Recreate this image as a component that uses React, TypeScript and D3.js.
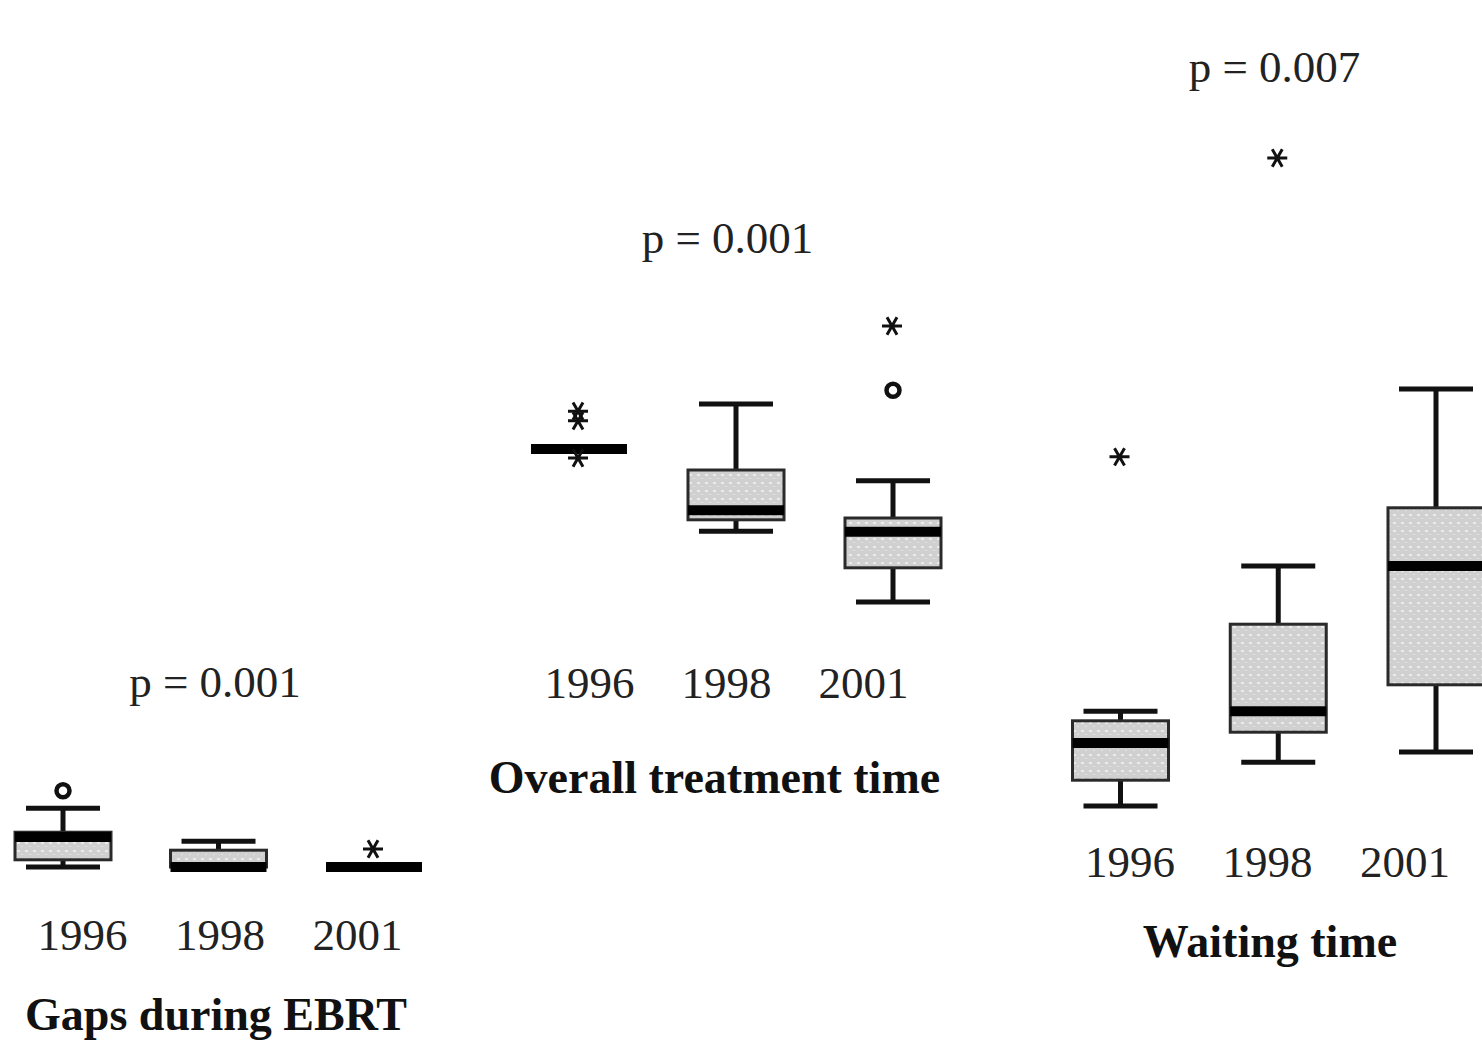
import React from "react";
import * as d3 from "d3";

// Year groups shared by all three panels
const years = ["1996", "1998", "2001"];

// Gaps during EBRT (days)
const gapsMin = [0, 0, 0];
const gapsQ1 = [1.2, 0, 0];
const gapsMedian = [5.0, 0, 0];
const gapsQ3 = [5.8, 2.8, 0];
const gapsMax = [9.8, 4.3, 0];
const gapsOutliers = [
  { year: "1996", value: 12.7, kind: "circle" },
  { year: "2001", value: 3.0, kind: "star" },
];

// Overall treatment time (days)
const otMin = [56, 42.3, 30.5];
const otQ1 = [56, 44.2, 36.2];
const otMedian = [56, 45.8, 42.2];
const otQ3 = [56, 52.5, 44.5];
const otMax = [56, 63.5, 50.7];
const otOutliers = [
  { year: "1996", value: 62.3, kind: "star" },
  { year: "1996", value: 60.7, kind: "star" },
  { year: "1996", value: 54.5, kind: "star" },
  { year: "2001", value: 65.8, kind: "circle" },
  { year: "2001", value: 76.5, kind: "star" },
];

// Waiting time (days)
const wtMin = [4.0, 11.3, 13.0];
const wtQ1 = [8.3, 16.3, 24.2];
const wtMedian = [14.5, 19.8, 44.0];
const wtQ3 = [18.2, 34.3, 53.7];
const wtMax = [19.8, 44.0, 73.5];
const wtOutliers = [
  { year: "1996", value: 62.2, kind: "star" },
  { year: "1998", value: 112, kind: "star" },
];

const pValues = ["p = 0.001", "p = 0.001", "p = 0.007"];
const titles = ["Gaps during EBRT", "Overall treatment time", "Waiting time"];

type Outlier = { year: string; value: number; kind: string };

type PanelSpec = {
  min: number[];
  q1: number[];
  median: number[];
  q3: number[];
  max: number[];
  outliers: Outlier[];
  pText: string;
  title: string;
  zeroY: number;
  boxX: [number, number];
  labelX: [number, number];
  yearY: number;
  pPos: [number, number];
  titlePos: [number, number];
};

const panels: PanelSpec[] = [
  {
    min: gapsMin, q1: gapsQ1, median: gapsMedian, q3: gapsQ3, max: gapsMax,
    outliers: gapsOutliers, pText: pValues[0], title: titles[0],
    zeroY: 867, boxX: [63, 374], labelX: [82.5, 357.5], yearY: 950,
    pPos: [215, 697], titlePos: [216, 1030],
  },
  {
    min: otMin, q1: otQ1, median: otMedian, q3: otQ3, max: otMax,
    outliers: otOutliers, pText: pValues[1], title: titles[1],
    zeroY: 785, boxX: [579, 893], labelX: [589.5, 863.5], yearY: 698,
    pPos: [727.5, 253], titlePos: [714.5, 793],
  },
  {
    min: wtMin, q1: wtQ1, median: wtMedian, q3: wtQ3, max: wtMax,
    outliers: wtOutliers, pText: pValues[2], title: titles[2],
    zeroY: 830, boxX: [1120.5, 1436], labelX: [1130, 1405], yearY: 877,
    pPos: [1274.5, 82], titlePos: [1270, 957],
  },
];

const BOX_W = 96;
const CAP_W = 74;
const INK = "#111";
const SERIF = "'Liberation Serif', 'Times New Roman', serif";

function starPath(cx: number, cy: number, r: number) {
  const parts: string[] = [];
  for (const a of [0, 60, 120]) {
    const rad = (a * Math.PI) / 180;
    const dx = Math.cos(rad) * r;
    const dy = Math.sin(rad) * r;
    parts.push(`M${cx - dx},${cy - dy}L${cx + dx},${cy + dy}`);
  }
  return parts.join("");
}

function Panel({ p, idx }: { p: PanelSpec; idx: number }) {
  const y = d3.scaleLinear().domain([0, 100]).range([p.zeroY, p.zeroY - 600]);
  const x = d3.scalePoint<string>().domain(years).range(p.boxX);
  const xl = d3.scalePoint<string>().domain(years).range(p.labelX);

  return (
    <g>
      {years.map((yr, i) => {
        const cx = x(yr) as number;
        const yMin = y(p.min[i]);
        const yQ1 = y(p.q1[i]);
        const yMed = y(p.median[i]);
        const yQ3 = y(p.q3[i]);
        const yMax = y(p.max[i]);
        return (
          <g key={yr}>
            {/* whiskers */}
            <line x1={cx} x2={cx} y1={yQ3} y2={yMax} stroke={INK} strokeWidth={5} />
            <line x1={cx} x2={cx} y1={yQ1} y2={yMin} stroke={INK} strokeWidth={5} />
            <line x1={cx - CAP_W / 2} x2={cx + CAP_W / 2} y1={yMax} y2={yMax} stroke={INK} strokeWidth={5} />
            <line x1={cx - CAP_W / 2} x2={cx + CAP_W / 2} y1={yMin} y2={yMin} stroke={INK} strokeWidth={5} />
            {/* box */}
            <rect
              x={cx - BOX_W / 2}
              y={yQ3}
              width={BOX_W}
              height={Math.max(0, yQ1 - yQ3)}
              fill={`url(#dots${idx})`}
              stroke="#2a2a2a"
              strokeWidth={3}
            />
            {/* median */}
            <line
              x1={cx - BOX_W / 2}
              x2={cx + BOX_W / 2}
              y1={yMed}
              y2={yMed}
              stroke="#000"
              strokeWidth={10}
            />
          </g>
        );
      })}
      {p.outliers.map((o, k) => {
        const cx = x(o.year) as number;
        const cy = y(o.value);
        return o.kind === "circle" ? (
          <circle key={k} cx={cx} cy={cy} r={6.5} fill="none" stroke={INK} strokeWidth={4.5} />
        ) : (
          <path key={k} d={starPath(cx - 1, cy, 10)} stroke={INK} strokeWidth={3} fill="none" />
        );
      })}
      {years.map((yr) => (
        <text
          key={"l" + yr}
          x={xl(yr) as number}
          y={p.yearY}
          textAnchor="middle"
          fontFamily={SERIF}
          fontSize={45}
          fill="#222"
        >
          {yr}
        </text>
      ))}
      <text x={p.pPos[0]} y={p.pPos[1]} textAnchor="middle" fontFamily={SERIF} fontSize={45} fill="#222">
        {p.pText}
      </text>
      <text
        x={p.titlePos[0]}
        y={p.titlePos[1]}
        textAnchor="middle"
        fontFamily={SERIF}
        fontWeight="bold"
        fontSize={46}
        fill="#111"
      >
        {p.title}
      </text>
    </g>
  );
}

export default function App() {
  return (
    <svg
      width={1482}
      height={1044}
      style={{ position: "absolute", left: 0, top: 0, background: "#fff" }}
    >
      <defs>
        {panels.map((_, i) => (
          <pattern key={i} id={`dots${i}`} width={8} height={8} patternUnits="userSpaceOnUse">
            <rect width={8} height={8} fill="#d0d0d0" />
            <rect x={1} y={2} width={3} height={2} fill="#ebebeb" />
            <rect x={5} y={6} width={2} height={1} fill="#e2e2e2" />
          </pattern>
        ))}
      </defs>
      {panels.map((p, i) => (
        <Panel key={i} p={p} idx={i} />
      ))}
    </svg>
  );
}
